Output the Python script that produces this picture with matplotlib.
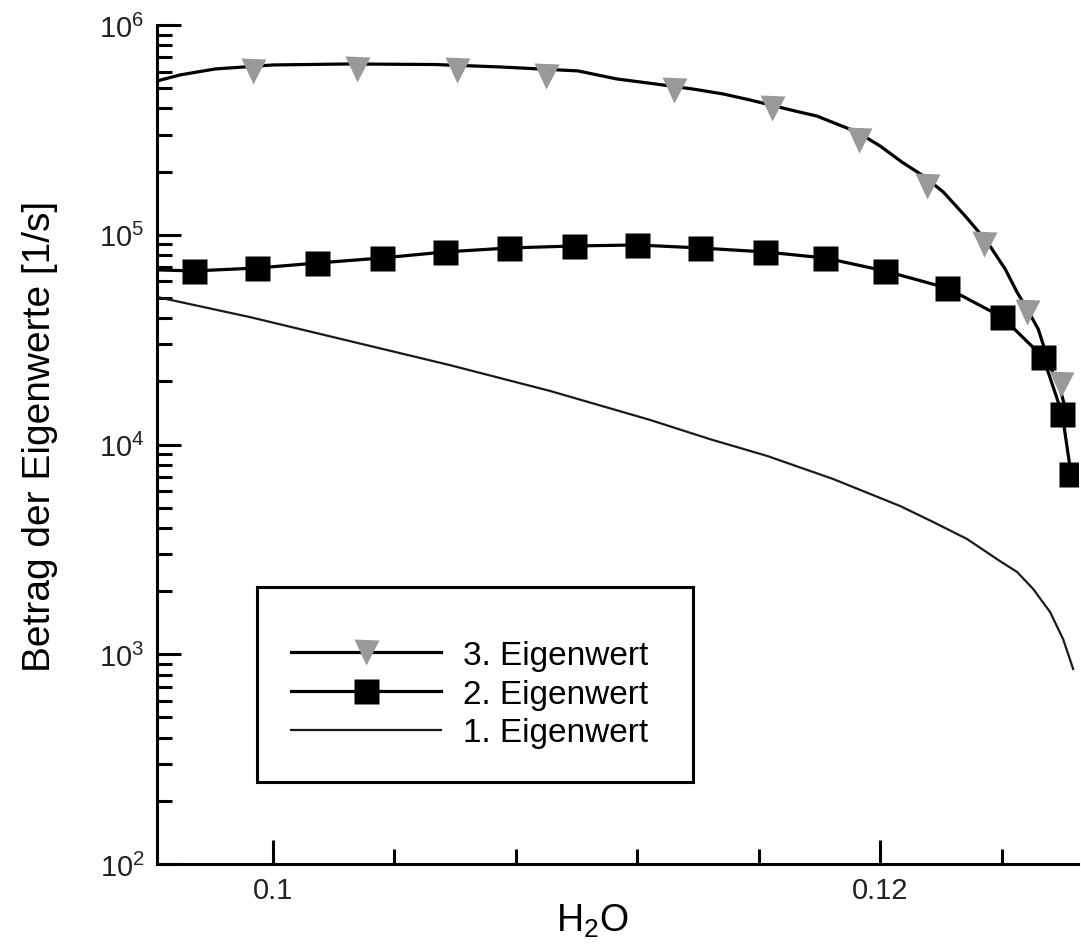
import matplotlib
matplotlib.use("Agg")
import matplotlib.pyplot as plt
from matplotlib.patches import Rectangle

plt.rcParams['font.family'] = ['Liberation Sans', 'DejaVu Sans']
plt.rcParams['mathtext.fontset'] = 'custom'
plt.rcParams['mathtext.rm'] = 'Liberation Sans'
plt.rcParams['mathtext.it'] = 'Liberation Sans:italic'
plt.rcParams['mathtext.bf'] = 'Liberation Sans:bold'

# ---------------- data ----------------
# 3. Eigenwert: curve and its triangle markers
ev3_line_x = [0.09618, 0.09694, 0.09809, 0.10000, 0.10254, 0.10534, 0.10748,
              0.11005, 0.11133, 0.11236, 0.11384, 0.11483, 0.11572, 0.11720,
              0.11792, 0.11858, 0.11924, 0.12000, 0.12072, 0.12142, 0.12208,
              0.12280, 0.12353, 0.12412, 0.12451, 0.12484, 0.12521, 0.12544,
              0.12567, 0.12593, 0.12613]
ev3_line_y = [5.41e5, 5.78e5, 6.17e5, 6.45e5, 6.52e5, 6.48e5, 6.31e5,
              6.04e5, 5.53e5, 5.29e5, 4.95e5, 4.69e5, 4.39e5, 3.89e5,
              3.68e5, 3.37e5, 3.09e5, 2.65e5, 2.22e5, 1.91e5, 1.60e5,
              1.23e5, 9.24e4, 6.87e4, 5.33e4, 4.43e4, 3.55e4, 2.79e4,
              2.24e4, 1.84e4, 1.44e4]
ev3_mark_x = [0.09934, 0.10277, 0.10606, 0.10900, 0.11321, 0.11644, 0.11931,
              0.12155, 0.12343, 0.12484, 0.12596]
ev3_mark_y = [6.04e5, 6.17e5, 6.10e5, 5.71e5, 4.90e5, 4.02e5, 2.83e5,
              1.71e5, 9.04e4, 4.28e4, 1.94e4]

# 2. Eigenwert: first point is the curve start at the left axis, the rest carry squares
ev2_x = [0.09618, 0.09740, 0.09947, 0.10145, 0.10359, 0.10567, 0.10778, 0.10992,
         0.11199, 0.11407, 0.11621, 0.11819, 0.12016, 0.12221, 0.12402,
         0.12537, 0.12600, 0.12629]
ev2_y = [6.80e4, 6.72e4, 6.94e4, 7.33e4, 7.75e4, 8.28e4, 8.65e4, 8.84e4,
         8.94e4, 8.65e4, 8.28e4, 7.75e4, 6.72e4, 5.57e4, 4.05e4,
         2.61e4, 1.40e4, 7.23e3]

# 1. Eigenwert: plain curve
ev1_x = [0.09618, 0.09924, 0.10254, 0.10583, 0.10913, 0.11242, 0.11440,
         0.11628, 0.11845, 0.12066, 0.12175, 0.12287, 0.12395, 0.12451,
         0.12504, 0.12560, 0.12603, 0.12636]
ev1_y = [5.05e4, 4.05e4, 3.11e4, 2.39e4, 1.80e4, 1.31e4, 1.06e4,
         8.82e3, 6.85e3, 5.09e3, 4.27e3, 3.54e3, 2.78e3, 2.47e3,
         2.05e3, 1.59e3, 1.18e3, 851]

legend_labels = ["3. Eigenwert", "2. Eigenwert", "1. Eigenwert"]
x_major = [0.1, 0.12]
x_major_labels = ["0.1", "0.12"]
x_minor = [0.104, 0.108, 0.112, 0.116, 0.124]
x_label = r"H$_\mathregular{2}$O"
y_label = "Betrag der Eigenwerte [1/s]"

# ---------------- figure ----------------
W, H = 1081, 945
fig = plt.figure(figsize=(W / 100, H / 100), dpi=100)
ax = fig.add_axes([157 / W, 80 / H, 921 / W, 839 / H])

ax.set_yscale('log')
ax.set_xlim(0.09618, 0.12652)
ax.set_ylim(1e2, 1e6)

lw = 2.3
l3, = ax.plot(ev3_line_x, ev3_line_y, color='k', lw=lw, zorder=2)
m3, = ax.plot(ev3_mark_x, ev3_mark_y, ls='none', marker='v', ms=18,
              mfc='#999999', mec='none', zorder=3)
l2, = ax.plot(ev2_x, ev2_y, color='k', lw=lw, zorder=2)
m2, = ax.plot(ev2_x[1:], ev2_y[1:], ls='none', marker='s', ms=18,
              mfc='k', mec='none', zorder=3)
l1, = ax.plot(ev1_x, ev1_y, color='#1a1a1a', lw=1.6, zorder=2)

# axes styling
for s in ['top', 'right']:
    ax.spines[s].set_visible(False)
for s in ['left', 'bottom']:
    ax.spines[s].set_linewidth(2.2)

ax.set_xticks(x_major, labels=x_major_labels)
ax.set_xticks(x_minor, minor=True)
ax.tick_params(which='major', direction='in', length=17, width=2.2,
               labelsize=21, pad=9, labelcolor='#222222')
ax.tick_params(which='minor', direction='in', length=10.5, width=2.2)

ax.set_xlabel(x_label, fontsize=27, va='top')
ax.xaxis.set_label_coords((592 - 157) / 921, -(903 - 865) / 839)
ax.set_ylabel(y_label, fontsize=28, va='bottom')
ax.yaxis.set_label_coords((58 - 157) / 921, (865 - 436) / 839)

# legend
leg = ax.legend([(l3, m3), (l2, m2), l1], legend_labels,
                loc='upper left', bbox_to_anchor=(291 / W, 1 - 641 / H),
                bbox_transform=fig.transFigure, frameon=False,
                borderpad=0, borderaxespad=0, handlelength=4.5,
                handletextpad=0.66, labelspacing=0.23, fontsize=24,
                numpoints=1)
fig.add_artist(Rectangle((257 / W, 1 - 783 / H), 436 / W, 195 / H,
                         transform=fig.transFigure, fill=False,
                         lw=2.2, ec='k'))

fig.savefig('out.png', dpi=100)
